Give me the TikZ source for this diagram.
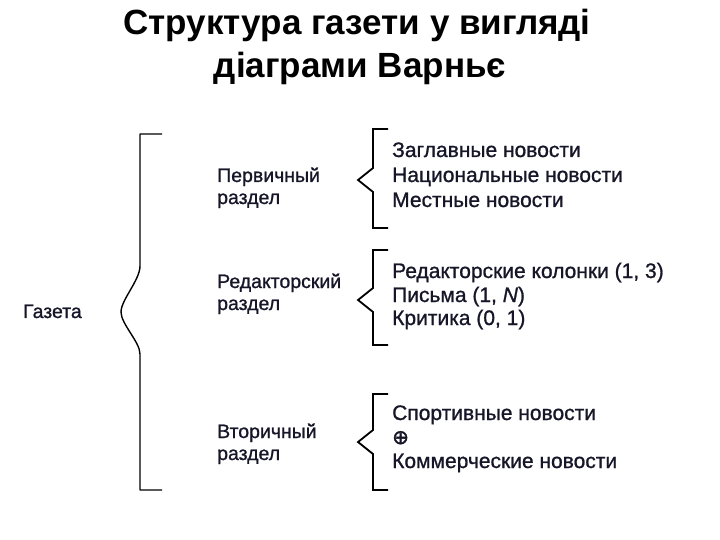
\documentclass[tikz,border=0pt]{standalone}
\usepackage{fontspec}
\setmainfont{Liberation Sans}
\newfontfamily\scanfont[FakeBold=1]{Liberation Sans}
\newfontfamily\symbfont[FakeBold=2]{DejaVu Sans}
\usetikzlibrary{positioning}
\definecolor{inkblue}{RGB}{22,22,40}
\begin{document}
\begin{tikzpicture}[x=1pt,y=-1pt,
		titletext/.style={anchor=base, inner sep=0pt, font=\fontsize{35}{40}\selectfont\bfseries},
		secttext/.style={anchor=base west, inner sep=0pt, font=\scanfont\fontsize{19.5}{24}\selectfont, text=inkblue},
		itemtext/.style={anchor=base west, inner sep=0pt, font=\scanfont\fontsize{21}{24}\selectfont, text=inkblue},
		bigbrace/.style={line width=1.4pt, line join=round},
		smallbrace/.style={line width=1.8pt, line join=miter}]
	\useasboundingbox (0,0) rectangle (720,540);

	% title
	\node[titletext] (title1) at (357,35) {Структура газети у вигляді};
	\node[titletext] (title2) at (360,78) {діаграми Варньє};

	% root and sections
	\node[secttext] (gazeta) at (23,318) {Газета};
	\node[secttext] (perv1) at (217,182) {Первичный};
	\node[secttext] (perv2) at (217,204) {раздел};
	\node[secttext] (red1) at (217,288) {Редакторский};
	\node[secttext] (red2) at (217,310) {раздел};
	\node[secttext] (vtor1) at (217,438) {Вторичный};
	\node[secttext] (vtor2) at (217,460) {раздел};

	% items
	\node[itemtext] (zagl) at (392,157) {Заглавные новости};
	\node[itemtext] (nats) at (392,182) {Национальные новости};
	\node[itemtext] (mest) at (392,207) {Местные новости};
	\node[itemtext] (kolon) at (392,278) {Редакторские колонки (1, 3)};
	\node[itemtext] (pisma) at (392,302) {Письма (1, \textit{N})};
	\node[itemtext] (krit) at (392,325) {Критика (0, 1)};
	\node[itemtext] (sport) at (392,420) {Спортивные новости};
	\node[itemtext, font=\symbfont\fontsize{20}{20}\selectfont] (plus) at (392,444) {⊕};
	\node[itemtext] (komm) at (392,468) {Коммерческие новости};

	% big brace
	\draw[bigbrace] (162,134) -- (140,134) -- (140,266)
		.. controls (140,280) and (121,300) .. (121,312)
		.. controls (121,324) and (140,342) .. (140,354) -- (140,490) -- (162,490);

	% small braces
	\foreach \ya/\yb/\yc in {129/180/228, 250/300/345, 394/442/490}
		\draw[smallbrace] (388,\ya) -- (373,\ya) -- (373,\yb-12) -- (358,\yb) -- (373,\yb+12) -- (373,\yc) -- (388,\yc);

\end{tikzpicture}
\end{document}
